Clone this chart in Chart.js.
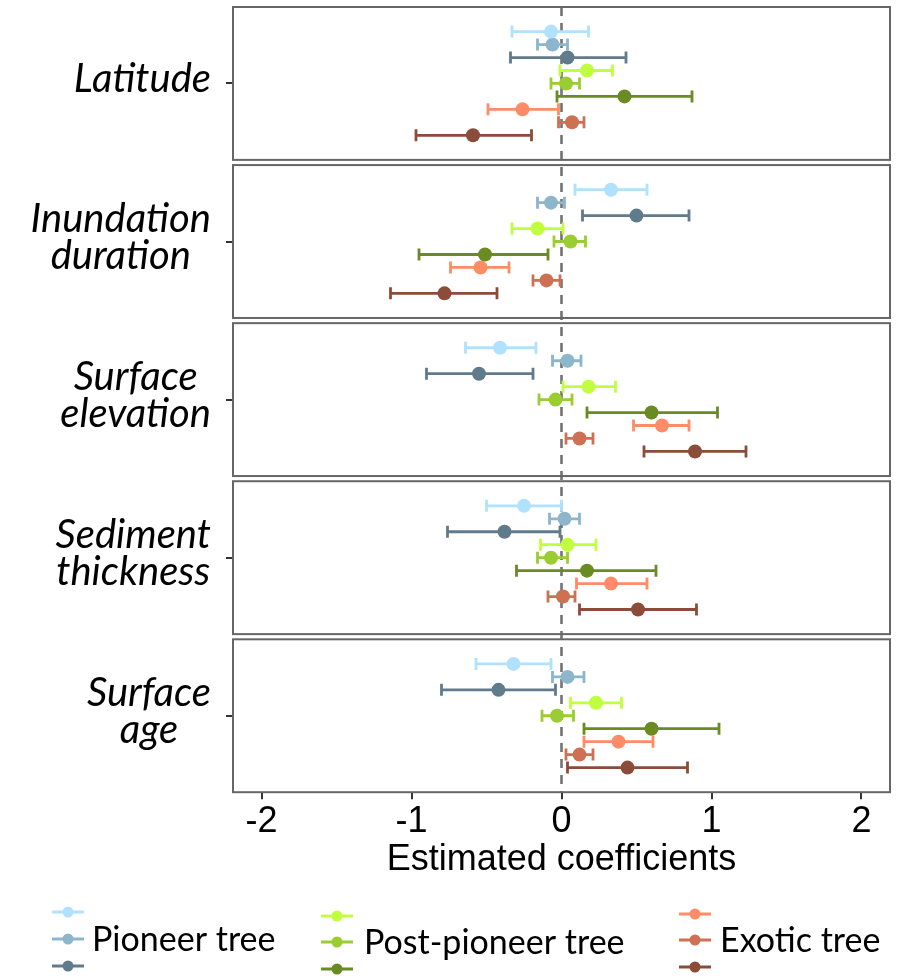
<!DOCTYPE html>
<html><head><meta charset="utf-8">
<script src="https://cdn.jsdelivr.net/npm/chart.js@4.4.1/dist/chart.umd.min.js"></script>
<style>html,body{margin:0;padding:0;background:#fff;}#wrap{width:904px;height:976px;position:relative;}</style>
</head><body><div id="wrap"><canvas id="c" width="904" height="976"></canvas></div>
<script>
// ---- data ----
const panelNames = ['Latitude', 'Inundation duration', 'Surface elevation', 'Sediment thickness', 'Surface age'];
const panelLabelLines = [['Latitude'], ['Inundation', 'duration'], ['Surface', 'elevation'], ['Sediment', 'thickness'], ['Surface', 'age']];
const xTickValues = [-2, -1, 0, 1, 2];
const xTickLabels = ['-2', '-1', '0', '1', '2'];
const xTitle = 'Estimated coefficients';
const groupNames = ['Pioneer tree', 'Post-pioneer tree', 'Exotic tree'];
const seriesNames = ['Pioneer tree (a)', 'Pioneer tree (b)', 'Pioneer tree (c)',
  'Post-pioneer tree (a)', 'Post-pioneer tree (b)', 'Post-pioneer tree (c)',
  'Exotic tree (a)', 'Exotic tree (b)', 'Exotic tree (c)'];
const seriesColors = ['#B0E2FF', '#8DB6CD', '#607B8B', '#C0FF3E', '#9ACD32', '#698B22', '#FF8C69', '#CD7054', '#8B4C39'];
// each entry per panel: [lower, estimate, upper]
const pioneerA = [[-0.33, -0.07, 0.18], [0.09, 0.33, 0.57], [-0.64, -0.41, -0.17], [-0.50, -0.25, 0.00], [-0.57, -0.32, -0.07]];
const pioneerB = [[-0.16, -0.06, 0.04], [-0.16, -0.07, 0.02], [-0.06, 0.04, 0.13], [-0.08, 0.02, 0.12], [-0.06, 0.04, 0.15]];
const pioneerC = [[-0.34, 0.04, 0.43], [0.14, 0.50, 0.85], [-0.90, -0.55, -0.19], [-0.76, -0.38, -0.01], [-0.80, -0.42, -0.04]];
const postA = [[-0.01, 0.17, 0.34], [-0.33, -0.16, 0.01], [0.01, 0.18, 0.36], [-0.14, 0.04, 0.23], [0.06, 0.23, 0.40]];
const postB = [[-0.07, 0.03, 0.12], [-0.05, 0.06, 0.16], [-0.15, -0.04, 0.07], [-0.16, -0.07, 0.04], [-0.13, -0.03, 0.08]];
const postC = [[-0.03, 0.42, 0.87], [-0.95, -0.51, -0.09], [0.17, 0.60, 1.04], [-0.30, 0.17, 0.63], [0.15, 0.60, 1.05]];
const exoticA = [[-0.49, -0.26, -0.02], [-0.74, -0.54, -0.35], [0.48, 0.67, 0.85], [0.10, 0.33, 0.57], [0.15, 0.38, 0.61]];
const exoticB = [[-0.02, 0.07, 0.15], [-0.19, -0.10, -0.01], [0.03, 0.12, 0.21], [-0.09, 0.01, 0.09], [0.03, 0.12, 0.21]];
const exoticC = [[-0.97, -0.59, -0.20], [-1.14, -0.78, -0.43], [0.55, 0.89, 1.23], [0.12, 0.51, 0.90], [0.04, 0.44, 0.84]];

// ---- layout of panels in y units ----
const PITCH = 12.2, SPAN = 11.8, OFFSET = 1.9;
const Y_MAX = (panelNames.length - 1) * PITCH + SPAN;
const seriesData = [pioneerA, pioneerB, pioneerC, postA, postB, postC, exoticA, exoticB, exoticC];

const datasets = seriesData.map((arr, s) => ({
  label: seriesNames[s],
  data: arr.map((t, p) => ({x: t[1], y: p * PITCH + OFFSET + s, lo: t[0], hi: t[2]})),
  backgroundColor: seriesColors[s],
  borderColor: seriesColors[s],
  borderWidth: 0,
  pointRadius: 7,
  pointHoverRadius: 7
}));

const panelPlugin = {
  id: 'panels',
  beforeDatasetsDraw(chart) {
    const {ctx, chartArea, scales} = chart;
    const xs = scales.x;
    ctx.save();
    const x0 = xs.getPixelForValue(0);
    ctx.strokeStyle = '#737373';
    ctx.lineWidth = 2.6;
    ctx.setLineDash([9, 7]);
    ctx.beginPath();
    ctx.moveTo(x0, chartArea.top);
    ctx.lineTo(x0, chartArea.bottom);
    ctx.stroke();
    ctx.setLineDash([]);
    chart.data.datasets.forEach((ds, i) => {
      const meta = chart.getDatasetMeta(i);
      ctx.strokeStyle = ds.borderColor;
      ctx.lineWidth = 2.8;
      ds.data.forEach((d, j) => {
        const y = meta.data[j].y;
        const a = xs.getPixelForValue(d.lo), b = xs.getPixelForValue(d.hi);
        ctx.beginPath();
        ctx.moveTo(a, y); ctx.lineTo(b, y);
        ctx.moveTo(a, y - 6); ctx.lineTo(a, y + 6);
        ctx.moveTo(b, y - 6); ctx.lineTo(b, y + 6);
        ctx.stroke();
      });
    });
    ctx.restore();
  },
  afterDatasetsDraw(chart) {
    const {ctx, chartArea, scales} = chart;
    const ys = scales.y;
    ctx.save();
    ctx.strokeStyle = '#666666';
    ctx.lineWidth = 2;
    panelNames.forEach((n, p) => {
      const t = ys.getPixelForValue(p * PITCH), b = ys.getPixelForValue(p * PITCH + SPAN);
      ctx.strokeRect(chartArea.left, t, chartArea.right - chartArea.left, b - t);
    });
    ctx.fillStyle = '#000';
    ctx.font = 'italic 40px Lato';
    ctx.textAlign = 'center';
    ctx.textBaseline = 'alphabetic';
    const rightEdge = chartArea.left - 22;
    panelLabelLines.forEach((lines, p) => {
      const cy = ys.getPixelForValue(p * PITCH + SPAN / 2);
      const w = Math.max(...lines.map(l => ctx.measureText(l).width));
      const cx = rightEdge - w / 2;
      const n = lines.length;
      lines.forEach((l, k) => {
        ctx.fillText(l, cx, cy + 9 + (k - (n - 1) / 2) * 37);
      });
    });
    ctx.restore();
  },
  afterDraw(chart) {
    const {ctx} = chart;
    ctx.save();
    const markerX = [68, 337, 695];
    const labelX = [92, 364, 720];
    const rowY = [[912, 939, 966], [916, 942, 969], [914, 940, 967]];
    groupNames.forEach((g, gi) => {
      for (let r = 0; r < 3; r++) {
        const col = seriesColors[gi * 3 + r];
        const y = rowY[gi][r];
        ctx.strokeStyle = col; ctx.fillStyle = col; ctx.lineWidth = 3;
        ctx.beginPath(); ctx.moveTo(markerX[gi] - 16, y); ctx.lineTo(markerX[gi] + 16, y); ctx.stroke();
        ctx.beginPath(); ctx.arc(markerX[gi], y, 5.5, 0, Math.PI * 2); ctx.fill();
      }
      ctx.fillStyle = '#000';
      ctx.font = '34px Lato';
      ctx.textAlign = 'left';
      ctx.textBaseline = 'middle';
      ctx.fillText(g, labelX[gi], rowY[gi][1] + 1);
    });
    ctx.restore();
  }
};

new Chart(document.getElementById('c'), {
  type: 'scatter',
  data: {datasets},
  options: {
    responsive: false,
    devicePixelRatio: 1,
    animation: false,
    layout: {padding: {top: 1, right: 14, bottom: 102, left: 0}},
    plugins: {legend: {display: false}, tooltip: {enabled: false}},
    scales: {
      x: {
        type: 'linear', min: -2.19, max: 2.19,
        afterBuildTicks: s => { s.ticks = xTickValues.map(v => ({value: v})); },
        ticks: {
          callback: v => xTickLabels[xTickValues.indexOf(v)],
          font: {family: 'Liberation Sans', size: 36, lineHeight: 1},
          color: '#000', padding: 5, maxRotation: 0, autoSkip: false
        },
        grid: {drawOnChartArea: false, drawTicks: true, tickLength: 7, color: '#333', lineWidth: 2},
        border: {display: false},
        title: {display: true, text: xTitle, color: '#000', font: {family: 'Liberation Sans', size: 36, lineHeight: 0.8}, padding: {top: 0, bottom: 0}}
      },
      y: {
        type: 'linear', reverse: true, min: 0, max: Y_MAX,
        afterBuildTicks: s => { s.ticks = panelNames.map((n, p) => ({value: p * PITCH + SPAN / 2})); },
        afterFit: s => { s.width = 233; },
        ticks: {display: false},
        grid: {drawOnChartArea: false, drawTicks: true, tickLength: 7, color: '#333', lineWidth: 2},
        border: {display: false}
      }
    }
  },
  plugins: [panelPlugin]
});
</script>
</body></html>
